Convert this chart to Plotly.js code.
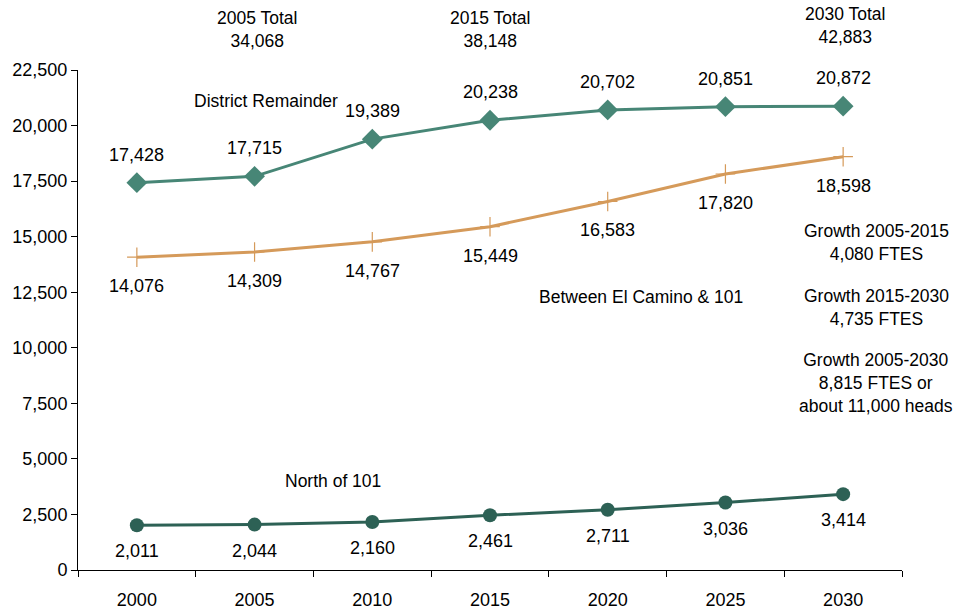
<!DOCTYPE html>
<html>
<head>
<meta charset="utf-8">
<script src="https://cdn.plot.ly/plotly-3.0.1.min.js"></script>
<style>html,body{margin:0;padding:0;background:#fff;}#chart{width:959px;height:610px;}</style>
</head>
<body>
<div id="chart"></div>
<script>
var years = ["2000","2005","2010","2015","2020","2025","2030"];
var districtRemainder = [17428, 17715, 19389, 20238, 20702, 20851, 20872];
var betweenElCamino = [14076, 14309, 14767, 15449, 16583, 17820, 18598];
var northOf101 = [2011, 2044, 2160, 2461, 2711, 3036, 3414];
var yTicks = [0, 2500, 5000, 7500, 10000, 12500, 15000, 17500, 20000, 22500];

var FONT = "Liberation Sans, Arial, sans-serif";
var cTeal = "#478676", cTan = "#D59A5A", cDark = "#2D6155";

function fmt(v){ return v.toLocaleString("en-US"); }

var traces = [
  {x: years, y: districtRemainder, mode: "lines+markers", name: "District Remainder",
   line: {color: cTeal, width: 3}, marker: {symbol: "diamond", size: 16, color: cTeal}},
  {x: years, y: betweenElCamino, mode: "lines+markers", name: "Between El Camino & 101",
   line: {color: cTan, width: 3}, marker: {symbol: "cross-thin", size: 14, line: {color: cTan, width: 1.2}}},
  {x: years, y: northOf101, mode: "lines+markers", name: "North of 101",
   line: {color: cDark, width: 3}, marker: {symbol: "circle", size: 14, color: cDark}}
];

var annotations = [];
function addLabels(vals, shift){
  for (var i = 0; i < years.length; i++) {
    annotations.push({x: i, y: vals[i], xref: "x", yref: "y", text: fmt(vals[i]),
      showarrow: false, yshift: shift, font: {family: FONT, size: 18, color: "#000"}});
  }
}
addLabels(districtRemainder, 28);
addLabels(betweenElCamino, -29);
addLabels(northOf101, -26);

var notes = [
  {t: "2005 Total<br>34,068", x: 257, y: 30},
  {t: "2015 Total<br>38,148", x: 490, y: 30},
  {t: "2030 Total<br>42,883", x: 845, y: 26},
  {t: "District Remainder", x: 266, y: 101},
  {t: "Between El Camino &amp; 101", x: 641, y: 297},
  {t: "North of 101", x: 333, y: 481},
  {t: "Growth 2005-2015<br>4,080 FTES", x: 876, y: 242},
  {t: "Growth 2015-2030<br>4,735 FTES", x: 876, y: 307},
  {t: "Growth 2005-2030<br>8,815 FTES or<br>about 11,000 heads", x: 876, y: 383}
];
notes.forEach(function(n){
  annotations.push({xref: "paper", yref: "paper",
    x: (n.x - 78) / (902 - 78), y: (570 - n.y) / 500,
    xanchor: "center", yanchor: "middle", text: n.t, showarrow: false, align: "center",
    font: {family: FONT, size: 17.5, color: "#000"}});
});

var layout = {
  width: 959, height: 610,
  margin: {l: 78, r: 57, t: 70, b: 40},
  paper_bgcolor: "#fff", plot_bgcolor: "#fff",
  showlegend: false,
  font: {family: FONT, size: 18, color: "#000"},
  xaxis: {type: "category", range: [-0.5, 6.5], showgrid: false, zeroline: false,
    showline: true, linecolor: "#000", linewidth: 1,
    ticks: "outside", tickson: "boundaries", ticklen: 6, tickcolor: "#000",
    ticklabelstandoff: 13,
    tickfont: {family: FONT, size: 18, color: "#000"}},
  yaxis: {range: [0, 22500], tickvals: yTicks, ticktext: yTicks.map(fmt),
    showgrid: false, zeroline: false, showline: true, linecolor: "#000", linewidth: 1,
    ticks: "outside", ticklen: 6, tickcolor: "#000",
    tickfont: {family: FONT, size: 18, color: "#000"}},
  annotations: annotations
};

Plotly.newPlot("chart", traces, layout, {displayModeBar: false, staticPlot: true});
</script>
</body>
</html>
